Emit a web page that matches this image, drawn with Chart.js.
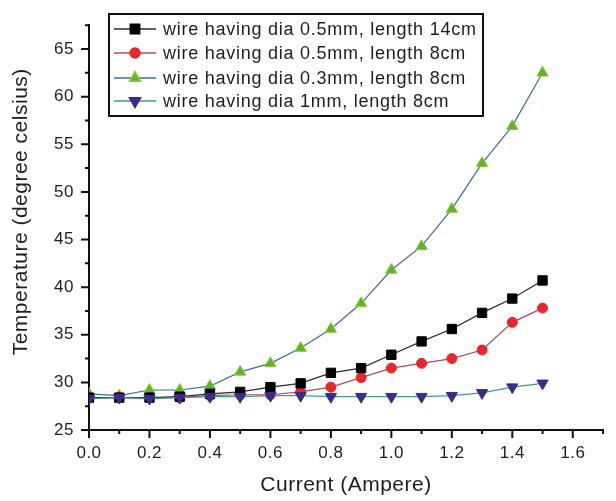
<!DOCTYPE html>
<html>
<head>
<meta charset="utf-8">
<script src="https://cdn.jsdelivr.net/npm/chart.js@4/dist/chart.umd.min.js"></script>
<style>
  html, body { margin: 0; padding: 0; background: #fff; }
  #wrap { width: 616px; height: 501px; }
</style>
</head>
<body>
<div id="wrap"><canvas id="myChart" width="616" height="501"></canvas></div>
<script>
// data
var current = [0.0, 0.1, 0.2, 0.3, 0.4, 0.5, 0.6, 0.7, 0.8, 0.9, 1.0, 1.1, 1.2, 1.3, 1.4, 1.5];
var dia05len14 = [28.4, 28.4, 28.4, 28.5, 28.8, 29.0, 29.5, 29.9, 31.0, 31.5, 32.9, 34.3, 35.6, 37.3, 38.8, 40.7];
var dia05len8  = [28.4, 28.4, 28.4, 28.4, 28.6, 28.7, 28.7, 29.0, 29.5, 30.5, 31.5, 32.0, 32.5, 33.4, 36.3, 37.8];
var dia03len8  = [28.8, 28.6, 29.2, 29.2, 29.6, 31.1, 32.0, 33.6, 35.6, 38.3, 41.8, 44.3, 48.2, 53.0, 56.9, 62.5];
var dia1len8   = [28.3, 28.4, 28.3, 28.4, 28.5, 28.5, 28.6, 28.6, 28.5, 28.5, 28.5, 28.5, 28.6, 28.9, 29.5, 29.9];
var seriesNames = [
  'wire having dia 0.5mm, length 14cm',
  'wire having dia 0.5mm, length 8cm',
  'wire having dia 0.3mm, length 8cm',
  'wire having dia 1mm, length 8cm'
];
var xTickLabels = ['0.0', '0.2', '0.4', '0.6', '0.8', '1.0', '1.2', '1.4', '1.6'];
var yTickLabels = ['25', '30', '35', '40', '45', '50', '55', '60', '65'];

function pts(ys) {
  return ys.map(function (y, i) { return { x: current[i], y: y }; });
}

var FONT = "'Liberation Sans', Arial, sans-serif";
var TXT = '#1e1e1e';

// own ticks (major + minor) and framed legend
var decoPlugin = {
  id: 'deco',
  beforeDraw: function (chart) {
    chart.ctx.letterSpacing = '0.5px';
  },
  afterDraw: function (chart) {
    var ctx = chart.ctx;
    var xs = chart.scales.x, ys = chart.scales.y;
    var a = chart.chartArea;
    ctx.save();
    ctx.strokeStyle = '#111';
    ctx.lineWidth = 2;
    ctx.beginPath();
    xs.ticks.forEach(function (t) {
      var px = xs.getPixelForValue(t.value);
      var major = Math.round(t.value * 10) % 2 === 0 && t.value < 1.65;
      ctx.moveTo(px, a.bottom);
      ctx.lineTo(px, a.bottom + (major ? 8 : 4));
    });
    ys.ticks.forEach(function (t) {
      var py = ys.getPixelForValue(t.value);
      var major = Math.round(t.value * 10) % 50 === 0 && t.value < 66;
      ctx.moveTo(a.left, py);
      ctx.lineTo(a.left - (major ? 8 : 4), py);
    });
    ctx.stroke();

    // legend box
    var bx = 109, by = 14, bw = 374, bh = 102;
    ctx.lineWidth = 2;
    ctx.strokeStyle = '#111';
    ctx.strokeRect(bx, by, bw, bh);
    var rowY = [29, 53, 78, 101];
    chart.data.datasets.forEach(function (ds, i) {
      var y = rowY[i];
      ctx.strokeStyle = ds.borderColor;
      ctx.lineWidth = 1.5;
      ctx.beginPath();
      ctx.moveTo(114, y);
      ctx.lineTo(156, y);
      ctx.stroke();
      ctx.fillStyle = ds.pointBackgroundColor;
      ctx.strokeStyle = ds.pointBorderColor;
      Chart.helpers.drawPoint(ctx, {
        pointStyle: ds.pointStyle,
        rotation: ds.pointRotation || 0,
        radius: ds.pointRadius,
        borderWidth: 1
      }, 135, y);
      ctx.fillStyle = TXT;
      ctx.font = '18px ' + FONT;
      ctx.letterSpacing = '0.75px';
      ctx.textBaseline = 'middle';
      ctx.fillText(ds.label, 163, y + 1);
    });
    ctx.restore();
  }
};

var ctx = document.getElementById('myChart').getContext('2d');
var myChart = new Chart(ctx, {
  type: 'line',
  data: {
    datasets: [{
      label: seriesNames[0],
      data: pts(dia05len14),
      borderColor: '#2a2a2a',
      pointBackgroundColor: '#000000',
      pointBorderColor: '#000000',
      pointStyle: 'rect',
      pointRadius: 6.6,
      order: 2
    }, {
      label: seriesNames[1],
      data: pts(dia05len8),
      borderColor: '#a8505e',
      pointBackgroundColor: '#e8262b',
      pointBorderColor: '#e8262b',
      pointStyle: 'circle',
      pointRadius: 5,
      order: 3
    }, {
      label: seriesNames[2],
      data: pts(dia03len8),
      borderColor: '#3f6c98',
      pointBackgroundColor: '#5cb52c',
      pointBorderColor: '#8fc830',
      pointStyle: 'triangle',
      pointRadius: 6.5,
      order: 4
    }, {
      label: seriesNames[3],
      data: pts(dia1len8),
      borderColor: '#3e9c8c',
      pointBackgroundColor: '#3b2b8c',
      pointBorderColor: '#3b2b8c',
      pointStyle: 'triangle',
      pointRotation: 180,
      pointRadius: 6.5,
      order: 1
    }]
  },
  options: {
    responsive: false,
    animation: false,
    devicePixelRatio: 1,
    layout: { padding: { top: 7, right: 1, left: 0, bottom: 0 } },
    elements: {
      line: { borderWidth: 1.2, tension: 0 },
      point: { borderWidth: 1 }
    },
    plugins: {
      legend: { display: false },
      tooltip: { enabled: false }
    },
    scales: {
      x: {
        type: 'linear',
        min: 0,
        max: 1.7,
        afterFit: function (s) { s.height = 71; },
        grid: { display: false, drawTicks: false },
        border: { display: true, color: '#111', width: 2 },
        ticks: {
          stepSize: 0.1,
          autoSkip: false,
          maxRotation: 0,
          padding: 13,
          color: TXT,
          font: { family: FONT, size: 17 },
          callback: function (v) {
            var k = Math.round(v * 10);
            return (k % 2 === 0 && k <= 16) ? xTickLabels[k / 2] : '';
          }
        },
        title: {
          display: true,
          text: 'Current (Ampere)',
          color: TXT,
          font: { family: FONT, size: 21 },
          padding: { top: 0, bottom: 3 }
        }
      },
      y: {
        min: 25,
        max: 67.5,
        afterFit: function (s) { s.width = 89; },
        grid: { display: false, drawTicks: false },
        border: { display: true, color: '#111', width: 2 },
        ticks: {
          stepSize: 2.5,
          autoSkip: false,
          padding: 15,
          color: TXT,
          font: { family: FONT, size: 17 },
          callback: function (v) {
            var k = Math.round(v * 10);
            return (k % 50 === 0 && v <= 65) ? yTickLabels[(k - 250) / 50] : '';
          }
        },
        title: {
          display: true,
          text: '     Temperature (degree celsius)',
          color: TXT,
          font: { family: FONT, size: 21 },
          padding: { top: 9, bottom: 0 }
        }
      }
    }
  },
  plugins: [decoPlugin]
});
</script>
</body>
</html>
